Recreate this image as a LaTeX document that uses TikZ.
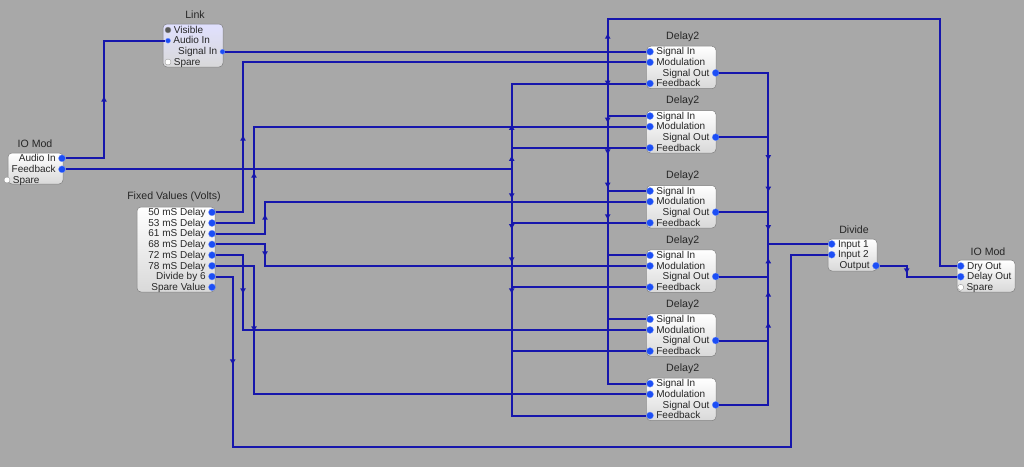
\documentclass[tikz,border=0pt]{standalone}
\usepackage{fontspec}
\setmainfont{Liberation Sans}
\usetikzlibrary{shapes.geometric}

\definecolor{canvas}{RGB}{168,168,168}
\definecolor{wireblue}{RGB}{22,22,172}
\definecolor{portblue}{RGB}{28,78,245}
\definecolor{boxline}{RGB}{128,128,128}

\begin{document}
\begin{tikzpicture}[x=1pt, y=-1pt, label distance=2.5pt,
    block/.style={draw=boxline, line width=0.5pt, rounded corners=4pt, top color=white, bottom color=black!15},
    title/.style={font=\fontsize{10.6}{12}\selectfont, text=black!85, inner sep=0pt},
    row/.style={font=\fontsize{10}{11}\selectfont, text=black!85, inner sep=0pt, text height=6.8pt, text depth=0.4pt},
    port/.style={circle, fill=portblue, draw=portblue!60!white, line width=0.3pt, inner sep=0pt, minimum size=7pt},
    spare/.style={port, fill=white, draw=black!45, minimum size=6pt},
    wire/.style={draw=wireblue, line width=2pt},
    tipu/.style={regular polygon, regular polygon sides=3, fill=wireblue, inner sep=0pt, minimum size=6.5pt},
    tipd/.style={tipu, shape border rotate=180}]

    \fill[canvas] (0,0) rectangle (1024,467);
    \useasboundingbox (0,0) rectangle (1024,467);

    % Link
    \node[title] (lk) at (195,15) {Link};
    \draw[block, top color=blue!12] (163,24) rectangle (223,67);
    \node[port, fill=black!65, draw=black!40, minimum size=6pt, label={[row]east:Visible}] (lk-vis) at (168,30) {};
    \node[port, minimum size=5pt, label={[row]east:Audio In}] (lk-ai) at (168,40.7) {};
    \node[port, minimum size=5pt, label={[row]west:Signal In}] (lk-si) at (222.5,51.7) {};
    \node[spare, label={[row]east:Spare}] (lk-sp) at (168,62) {};

    % IO Mod (in)
    \node[title] (ioa) at (35,144) {IO Mod};
    \draw[block] (8,153) rectangle (63,184);
    \node[port, label={[row]west:Audio In}] (ioa-ai) at (62,158.3) {};
    \node[port, label={[row]west:Feedback}] (ioa-fb) at (62,169.3) {};
    \node[spare, label={[row]east:Spare}] (ioa-sp) at (7,180) {};

    % Fixed Values
    \node[title] (fv) at (174,197) {Fixed Values (Volts)};
    \draw[block] (137,207) rectangle (215,292);
    \foreach \n/\t in {1/50 mS Delay, 2/53 mS Delay, 3/61 mS Delay, 4/68 mS Delay,
                       5/72 mS Delay, 6/78 mS Delay, 7/Divide by 6, 8/Spare Value}
      \node[port, label={[row]west:\t}] (fv-\n) at (212,201.6+10.7*\n) {};

    % Delay2 blocks
    \foreach \i/\y in {1/51.7, 2/116, 3/191, 4/255.3, 5/319.3, 6/383.7} {
      \node[title] (d\i) at (682.7,\y-15) {Delay2};
      \draw[block] (646.7,\y-5.5) rectangle (716,\y+37);
      \node[port, label={[row]east:Signal In}] (d\i-in) at (650,\y) {};
      \node[port, label={[row]east:Modulation}] (d\i-mod) at (650,\y+10.6) {};
      \node[port, label={[row]west:Signal Out}] (d\i-out) at (715.7,\y+21.2) {};
      \node[port, label={[row]east:Feedback}] (d\i-fb) at (650,\y+31.8) {};
    }

    % Divide
    \node[title] (dv) at (854,230) {Divide};
    \draw[block] (828,239) rectangle (877,271);
    \node[port, label={[row]east:Input 1}] (dv-i1) at (831.7,244) {};
    \node[port, label={[row]east:Input 2}] (dv-i2) at (831.7,254.7) {};
    \node[port, label={[row]west:Output}] (dv-out) at (876,265.7) {};

    % IO Mod (out)
    \node[title] (iob) at (988,252) {IO Mod};
    \draw[block] (957,260) rectangle (1015,292);
    \node[port, label={[row]east:Dry Out}] (iob-dry) at (960.7,266) {};
    \node[port, label={[row]east:Delay Out}] (iob-del) at (960.7,276.7) {};
    \node[spare, label={[row]east:Spare}] (iob-sp) at (960.7,287.3) {};

    % audio path
    \draw[wire] (ioa-ai) -| (104,100) node[tipu]{} |- (lk-ai);
    \coordinate (sj) at (607.7,51.7);
    \draw[wire] (lk-si) -- (d1-in);
    \draw[wire] (sj) -- (607.7,37) node[tipu]{} |- (940,19.3) |- (iob-dry);
    \draw[wire] (sj) -- (607.7,82.3) node[tipd]{} |- (d2-in);
    \draw[wire] (sj) -- (607.7,119.3) node[tipd]{} |- (d3-in);
    \draw[wire] (sj) -- (607.7,151) node[tipd]{} |- (d4-in);
    \draw[wire] (sj) -- (607.7,184.3) node[tipd]{} |- (d5-in);
    \draw[wire] (sj) -- (607.7,216) node[tipd]{} |- (d6-in);

    % feedback
    \coordinate (fbj) at (511.7,169.3);
    \draw[wire] (ioa-fb) -- (fbj);
    \draw[wire] (fbj) -- (511.7,128.3) node[tipu]{} |- (d1-fb);
    \draw[wire] (fbj) -- (511.7,159.3) node[tipu]{} |- (d2-fb);
    \draw[wire] (fbj) -- (511.7,195) node[tipd]{} |- (d3-fb);
    \draw[wire] (fbj) -- (511.7,225.7) node[tipd]{} |- (d4-fb);
    \draw[wire] (fbj) -- (511.7,259) node[tipd]{} |- (d5-fb);
    \draw[wire] (fbj) -- (511.7,290) node[tipd]{} |- (d6-fb);

    % modulation
    \draw[wire] (fv-1) -| (243,139) node[tipu]{} |- (d1-mod);
    \draw[wire] (fv-2) -| (254,176) node[tipu]{} |- (d2-mod);
    \draw[wire] (fv-3) -| (265,218) node[tipu]{} |- (d3-mod);
    \draw[wire] (fv-4) -| (265,253) node[tipd]{} |- (d4-mod);
    \draw[wire] (fv-5) -| (243,290) node[tipd]{} |- (d5-mod);
    \draw[wire] (fv-6) -| (254,328) node[tipd]{} |- (d6-mod);
    \draw[wire] (fv-7) -| (232.7,361) node[tipd]{} |- (790.7,447) |- (dv-i2);

    % outputs
    \draw[wire] (d1-out) -| (768.3,156.7) node[tipd]{} |- (dv-i1);
    \draw[wire] (d2-out) -| (768.3,188.3) node[tipd]{} |- (dv-i1);
    \draw[wire] (d3-out) -| (768.3,226.7) node[tipd]{} |- (dv-i1);
    \draw[wire] (d4-out) -| (768.3,261.7) node[tipu]{} |- (dv-i1);
    \draw[wire] (d5-out) -| (768.3,295) node[tipu]{} |- (dv-i1);
    \draw[wire] (d6-out) -| (768.3,326) node[tipu]{} |- (dv-i1);
    \draw[wire] (dv-out) -| (906.7,270) node[tipd]{} |- (iob-del);
\end{tikzpicture}
\end{document}
